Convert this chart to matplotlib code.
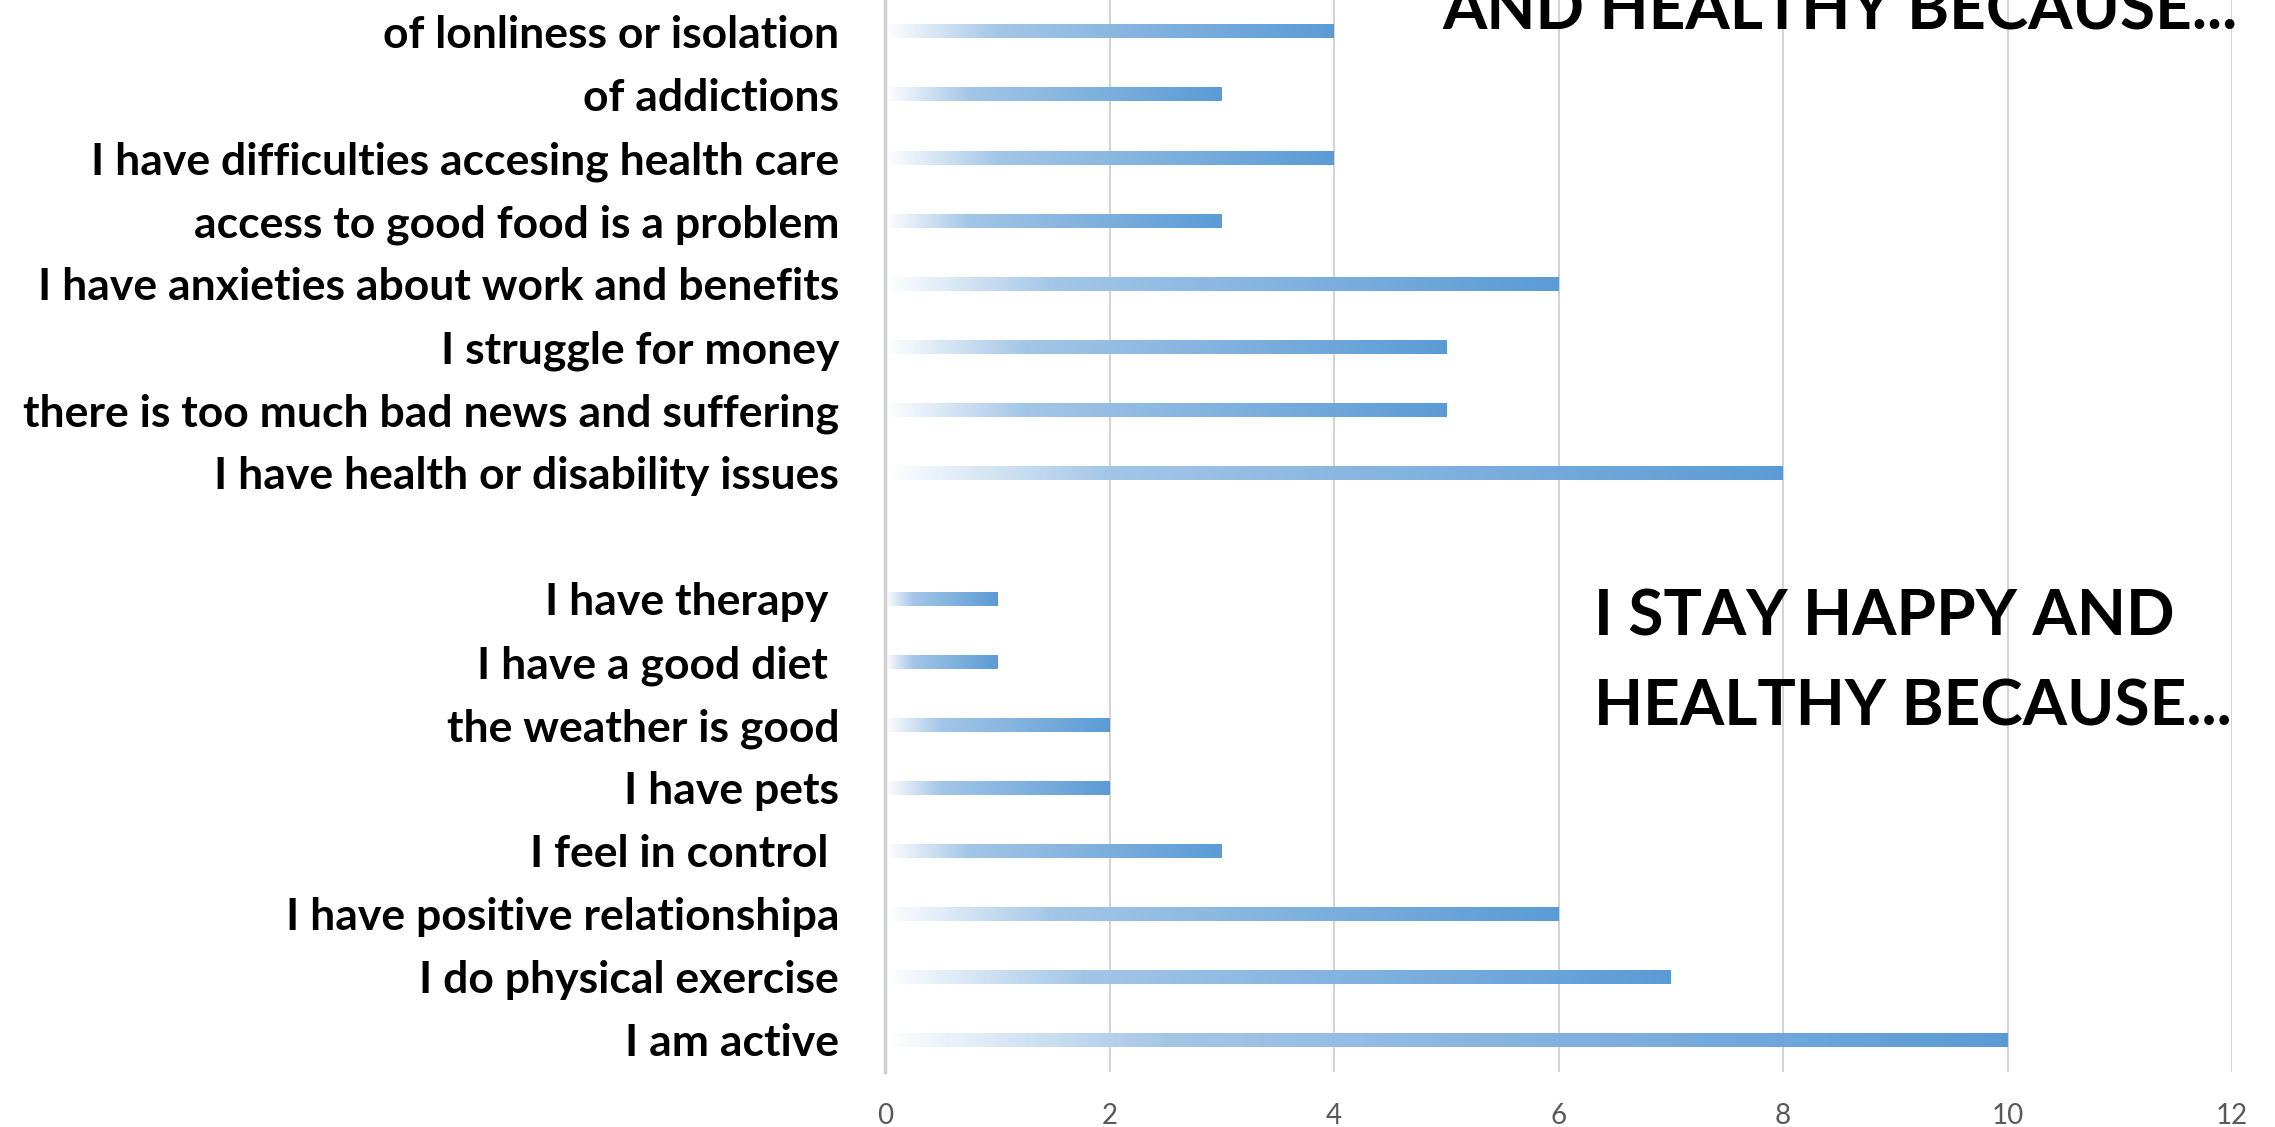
import numpy as np
import matplotlib
matplotlib.use("Agg")
import matplotlib.pyplot as plt
from matplotlib.colors import LinearSegmentedColormap

# ---- data (bottom to top) ----
categories = [
    "I am active",
    "I do physical exercise",
    "I have positive relationshipa",
    "I feel in control ",
    "I have pets",
    "the weather is good",
    "I have a good diet ",
    "I have therapy ",
    "",
    "I have health or disability issues",
    "there is too much bad news and suffering",
    "I struggle for money",
    "I have anxieties about work and benefits",
    "access to good food is a problem",
    "I have difficulties accesing health care",
    "of addictions",
    "of lonliness or isolation",
]
values = [10, 7, 6, 3, 2, 2, 1, 1, 0, 8, 5, 5, 6, 3, 4, 3, 4]
xticks = [0, 2, 4, 6, 8, 10, 12]
title_happy = ["I STAY HAPPY AND", "HEALTHY BECAUSE..."]
title_unhappy_visible = "AND HEALTHY BECAUSE..."

W, H = 2275, 1127
fig = plt.figure(figsize=(W / 100, H / 100), dpi=100)
ax = fig.add_axes([885 / W, (H - 1071.5) / H, (2232 - 885) / W, 1071.5 / H])

cmap = LinearSegmentedColormap.from_list(
    "grad", [(0.0, "#ffffff"), (0.25, "#a3c6e7"), (1.0, "#5b9bd5")])
ypos = np.arange(len(categories))
bars = ax.barh(ypos, values, height=0.22, color="none", edgecolor="none", zorder=2)
grad = np.linspace(0, 1, 512).reshape(1, -1)
for b in bars:
    w = b.get_width()
    if w <= 0:
        continue
    x0, y0, h = b.get_x(), b.get_y(), b.get_height()
    ax.imshow(grad, extent=[x0, x0 + w, y0, y0 + h], cmap=cmap, aspect="auto",
              interpolation="bilinear", zorder=2)

ax.set_xlim(0, 12)
ax.set_ylim(-0.5, len(categories) - 0.5)
ax.set_xticks(xticks)
ax.set_yticks(ypos)
ax.set_yticklabels(categories)
ax.grid(axis="x", color="#d0d0d0", linewidth=1.3, zorder=0)
ax.set_axisbelow(True)
for s in ["top", "right", "bottom"]:
    ax.spines[s].set_visible(False)
ax.spines["left"].set_color("#d0d0d0")
ax.spines["left"].set_linewidth(2.5)
ax.tick_params(axis="both", length=0)
ax.tick_params(axis="y", pad=33)
ax.tick_params(axis="x", pad=23)
for t in ax.get_yticklabels():
    t.set_fontfamily("Lato")
    t.set_fontweight("bold")
    t.set_fontsize(32)
    t.set_color("black")
for t in ax.get_xticklabels():
    t.set_fontfamily("Lato")
    t.set_fontsize(20)
    t.set_color("#595959")

def ftext(xpx, ypx, s):
    fig.text(xpx / W, 1 - ypx / H, s, ha="left", va="baseline",
             fontfamily="Lato", fontweight="bold", fontsize=46, color="black")

ftext(1594, 636, title_happy[0])
ftext(1594, 725, title_happy[1])
ftext(1442, 29, title_unhappy_visible)

fig.savefig("out.png", dpi=100)
